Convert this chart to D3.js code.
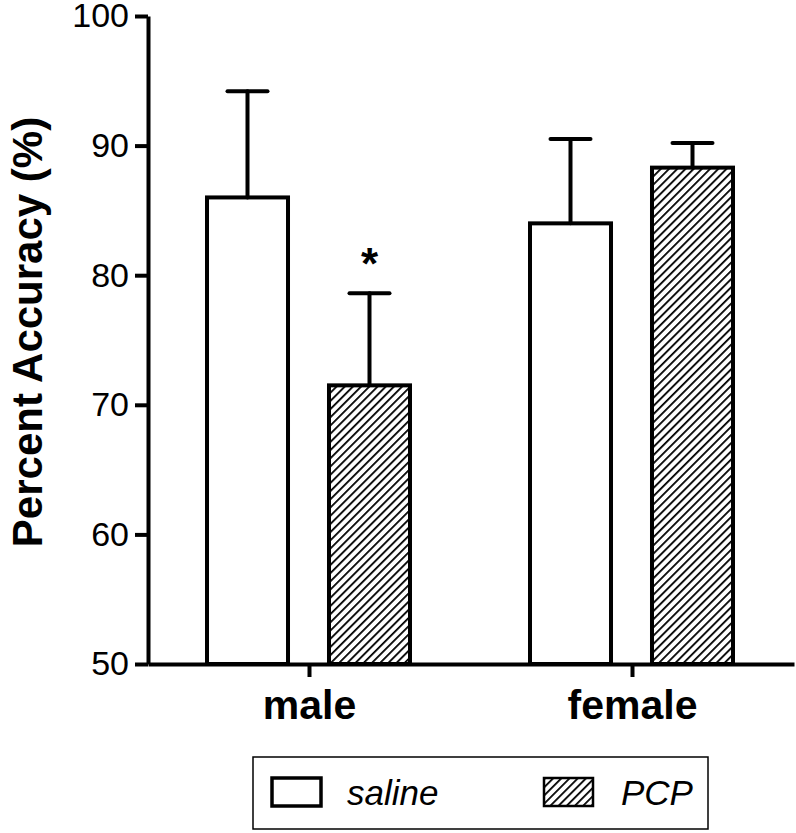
<html lang="en">
<head>
<meta charset="UTF-8">
<script src="https://d3js.org/d3.v7.min.js"></script>
<style>
    body { margin: 0; background: white; }
    text { font-family: "Liberation Sans", Arial, sans-serif; fill: black; }
</style>
</head>
<body>
<div id="here"></div>
<script>
    // data
    const groups = ["male", "female"];
    const treatments = ["saline", "PCP"];
    const salineMean = [86.0, 84.0];
    const salineSem = [8.2, 6.5];
    const pcpMean = [71.5, 88.3];
    const pcpSem = [7.1, 1.9];
    const yTicks = [50, 60, 70, 80, 90, 100];
    const starred = [{ group: "male", treatment: "PCP" }];

    const W = 796, H = 833;

    const rows = [];
    groups.forEach((g, i) => {
        rows.push({ group: g, treatment: "saline", mean: salineMean[i], sem: salineSem[i] });
        rows.push({ group: g, treatment: "PCP", mean: pcpMean[i], sem: pcpSem[i] });
    });

    const svg = d3.select("#here").append("svg")
        .attr("width", W)
        .attr("height", H);

    // hatch pattern for PCP
    const defs = svg.append("defs");
    defs.append("pattern")
        .attr("id", "hatch")
        .attr("patternUnits", "userSpaceOnUse")
        .attr("width", 5.8)
        .attr("height", 10)
        .attr("patternTransform", "rotate(45)")
        .call(p => {
            p.append("rect").attr("width", 5.8).attr("height", 10).attr("fill", "white");
            p.append("line")
                .attr("x1", 0).attr("y1", 0).attr("x2", 0).attr("y2", 10)
                .attr("stroke", "black").attr("stroke-width", 3.6);
        });

    const y = d3.scaleLinear().domain([50, 100]).range([664, 16]);
    const x0 = d3.scaleBand().domain(groups).range([148, 794]);
    const x1 = d3.scaleBand().domain(treatments).range([59, 262]).paddingInner(0.336);

    const fill = t => t === "PCP" ? "url(#hatch)" : "white";

    // bars
    const bars = svg.append("g");
    bars.selectAll("rect")
        .data(rows)
        .enter()
        .append("rect")
        .attr("x", d => x0(d.group) + x1(d.treatment))
        .attr("y", d => y(d.mean))
        .attr("width", x1.bandwidth())
        .attr("height", d => y(50) - y(d.mean))
        .attr("fill", d => fill(d.treatment))
        .attr("stroke", "black")
        .attr("stroke-width", 4);

    // error bars (upper only)
    const capW = 40;
    const eb = svg.append("g").attr("stroke", "black").attr("stroke-width", 4).attr("stroke-linecap", "round");
    rows.forEach(d => {
        const cx = x0(d.group) + x1(d.treatment) + x1.bandwidth() / 2;
        eb.append("line")
            .attr("x1", cx).attr("x2", cx)
            .attr("y1", y(d.mean)).attr("y2", y(d.mean + d.sem));
        eb.append("line")
            .attr("x1", cx - capW / 2).attr("x2", cx + capW / 2)
            .attr("y1", y(d.mean + d.sem)).attr("y2", y(d.mean + d.sem));
    });

    // significance marks
    starred.forEach(s => {
        const d = rows.find(r => r.group === s.group && r.treatment === s.treatment);
        const cx = x0(d.group) + x1(d.treatment) + x1.bandwidth() / 2;
        svg.append("text")
            .attr("x", cx)
            .attr("y", y(d.mean + d.sem) - 14)
            .attr("text-anchor", "middle")
            .attr("font-size", 44)
            .attr("font-weight", "bold")
            .text("*");
    });

    // y axis
    const yAxis = svg.append("g")
        .attr("transform", "translate(148,0)")
        .call(d3.axisLeft(y).tickValues(yTicks).tickSize(13).tickSizeOuter(0).tickPadding(6));
    yAxis.selectAll("path, line").attr("stroke", "black").attr("stroke-width", 4);
    yAxis.selectAll("text").attr("font-size", 34).attr("font-family", "Liberation Sans, Arial, sans-serif");

    // x axis
    const xAxis = svg.append("g")
        .attr("transform", "translate(0,664)")
        .call(d3.axisBottom(x0).tickSize(13).tickSizeOuter(0).tickPadding(13));
    xAxis.selectAll("path, line").attr("stroke", "black").attr("stroke-width", 4);
    xAxis.selectAll("text")
        .attr("font-size", 41)
        .attr("font-weight", "bold")
        .attr("font-family", "Liberation Sans, Arial, sans-serif");

    // y title
    svg.append("text")
        .attr("transform", "translate(42,332) rotate(-90)")
        .attr("text-anchor", "middle")
        .attr("font-size", 42)
        .attr("font-weight", "bold")
        .text("Percent Accuracy (%)");

    // legend
    const lg = svg.append("g");
    lg.append("rect")
        .attr("x", 253).attr("y", 757).attr("width", 455).attr("height", 72)
        .attr("fill", "white").attr("stroke", "black").attr("stroke-width", 1.5);
    const items = lg.selectAll("g.item")
        .data(treatments)
        .enter()
        .append("g")
        .attr("class", "item")
        .attr("transform", (d, i) => `translate(${272 + i * 272},778)`);
    items.append("rect")
        .attr("width", 49).attr("height", 28)
        .attr("fill", d => fill(d))
        .attr("stroke", "black")
        .attr("stroke-width", d => d === "PCP" ? 2.5 : 3.5);
    items.append("text")
        .attr("x", (d, i) => i === 0 ? 75 : 77)
        .attr("y", 27)
        .attr("font-size", 35)
        .attr("font-style", "italic")
        .text(d => d);
</script>
</body>
</html>
